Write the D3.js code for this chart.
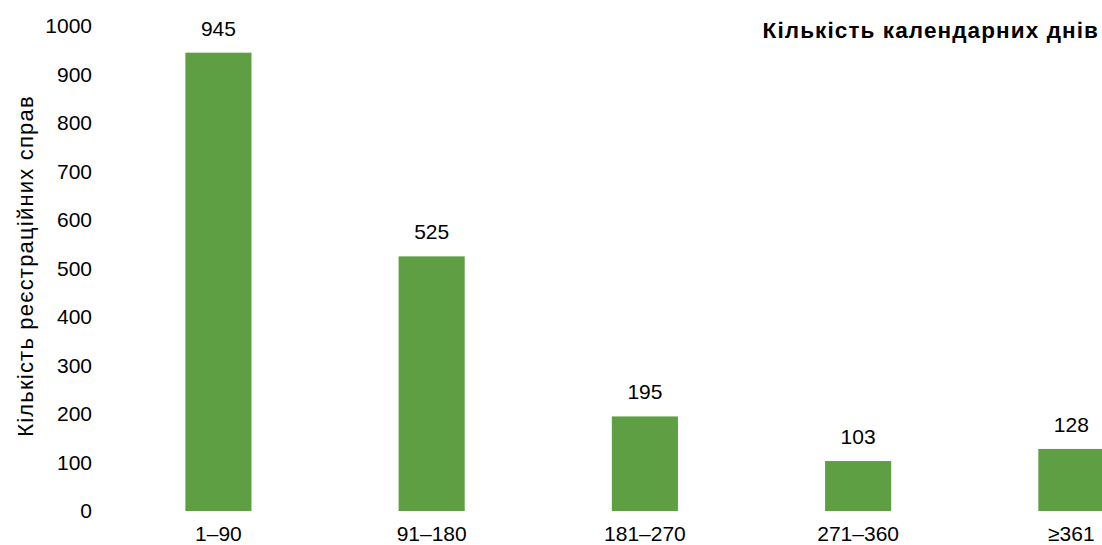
<!DOCTYPE html>
<html><head><meta charset="utf-8">
<script src="https://cdn.jsdelivr.net/npm/d3@7"></script>
<style>body{margin:0;background:#fff;overflow:hidden}text{font-family:"Liberation Sans",Arial,sans-serif;fill:#000}</style>
</head><body>
<svg id="c" width="1102" height="545"></svg>
<script>
const categories = ["1–90", "91–180", "181–270", "271–360", "≥361"];
const values = [945, 525, 195, 103, 128];
const yTicks = [0, 100, 200, 300, 400, 500, 600, 700, 800, 900, 1000];
const yTitle = "Кількість реєстраційних справ";
const xTitle = "Кількість календарних днів";

const svg = d3.select("#c");
const x = d3.scaleBand().domain(categories).range([111.8, 1178]).paddingInner(0.69).paddingOuter(0.345);
const y = d3.scaleLinear().domain([0, 1000]).range([511, 26]);

svg.selectAll("rect.bar").data(values).join("rect")
  .attr("class", "bar")
  .attr("x", (d, i) => x(categories[i]))
  .attr("width", x.bandwidth())
  .attr("y", d => y(d))
  .attr("height", d => y(0) - y(d))
  .attr("fill", "#5e9f44");

svg.selectAll("text.val").data(values).join("text")
  .attr("class", "val")
  .attr("x", (d, i) => x(categories[i]) + x.bandwidth() / 2)
  .attr("y", d => y(d) - 17)
  .attr("text-anchor", "middle")
  .attr("font-size", 21)
  .text(d => d);

const yAxis = svg.append("g").attr("transform", "translate(92,0)")
  .call(d3.axisLeft(y).tickValues(yTicks).tickFormat(d3.format("d")).tickSize(0).tickPadding(0));
yAxis.select(".domain").remove();
yAxis.selectAll("text").attr("font-size", 21).attr("font-family", "Liberation Sans, Arial, sans-serif").attr("fill", "#000");

const xAxis = svg.append("g").attr("transform", "translate(0,526)")
  .call(d3.axisBottom(x).tickSize(0).tickPadding(0));
xAxis.select(".domain").remove();
xAxis.selectAll("text").attr("font-size", 21).attr("font-family", "Liberation Sans, Arial, sans-serif").attr("fill", "#000");

svg.append("text")
  .attr("transform", "translate(33,266) rotate(-90)")
  .attr("text-anchor", "middle")
  .attr("font-size", 22)
  .attr("letter-spacing", 1.2)
  .text(yTitle);

svg.append("text")
  .attr("x", 1099).attr("y", 37.5)
  .attr("text-anchor", "end")
  .attr("font-size", 22.5)
  .attr("letter-spacing", 1.1)
  .attr("font-weight", "bold")
  .text(xTitle);
</script>
</body></html>
